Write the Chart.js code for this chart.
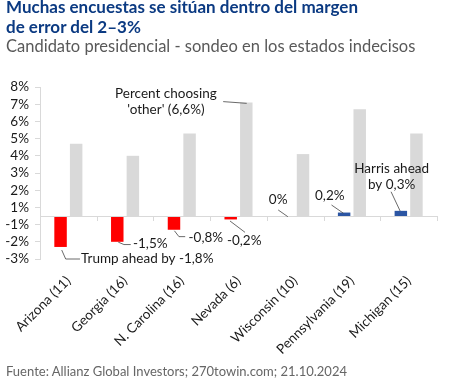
<!DOCTYPE html>
<html>
<head>
<meta charset="utf-8">
<script src="https://cdn.jsdelivr.net/npm/chart.js@4.4.1/dist/chart.umd.min.js"></script>
<style>
  body { margin: 0; background: #fff; font-family: Lato, sans-serif; }
  #box { position: relative; width: 458px; height: 385px; overflow: hidden; }
  #box canvas { position: absolute; left: 0; top: 0; }
  .title { position: absolute; left: 6px; top: -3px; color: #0b3a82; font-weight: bold; font-size: 17px; line-height: 20px; }
  .sub { position: absolute; left: 6px; top: 36px; color: #595959; font-size: 16.5px; }
  .foot { position: absolute; left: 6px; top: 363px; color: #666; font-size: 13px; }
</style>
</head>
<body>
<div id="box">
  <canvas id="chart" width="458" height="385"></canvas>
  <div class="title">Muchas encuestas se sitúan dentro del margen<br>de error del 2–3%</div>
  <div class="sub">Candidato presidencial - sondeo en los estados indecisos</div>
  <div class="foot">Fuente: Allianz Global Investors; 270towin.com; 21.10.2024</div>
</div>
<script>
// data
const states = ["Arizona (11)", "Georgia (16)", "N. Carolina (16)", "Nevada (6)", "Wisconsin (10)", "Pennsylvania (19)", "Michigan (15)"];
const leadValues = [-1.8, -1.5, -0.8, -0.2, 0, 0.2, 0.3];
const otherValues = [4.2, 3.5, 4.8, 6.6, 3.6, 6.2, 4.8];
// the original axis prints its labels half a step off, without a 0%
const yTickLabels = ["-3%", "-2%", "-1%", "1%", "2%", "3%", "4%", "5%", "6%", "7%", "8%"];

// callouts: x as category index, y as value
const notes = [
  { text: ["Trump ahead by -1,8%"], at: [0.223, -2.5], align: "left", path: [[-0.117, -1.98], [-0.047, -2.5], [0.205, -2.5]] },
  { text: ["-1,5%"], at: [1.14, -1.62], align: "left", path: [[0.88, -1.52], [0.98, -1.66], [1.10, -1.66]] },
  { text: ["-0,8%"], at: [2.12, -1.24], align: "left", path: [[1.87, -0.86], [1.95, -1.2], [2.06, -1.2]] },
  { text: ["-0,2%"], at: [3.10, -1.45], align: "center", path: [[2.85, -0.29], [3.115, -0.95]] },
  { text: ["0%"], at: [3.70, 0.93], align: "center", path: [[3.70, 0.35], [3.87, -0.04]] },
  { text: ["0,2%"], at: [4.61, 1.18], align: "center", path: [[4.64, 0.64], [4.85, 0.16]] },
  { text: ["Harris ahead", "by 0,3%"], at: [5.70, 2.77], align: "center", path: [[5.69, 1.41], [5.85, 0.29]] },
  { text: ["Percent choosing", "'other' (6,6%)"], at: [1.72, 7.13], align: "center", path: [[2.73, 6.65], [3.145, 6.55]] }
];

const RED = "#ff0000";
const BLUE = "#2b55a3";
const GREY = "#d9d9d9";

const extras = {
  id: "extras",
  afterDatasetsDraw(chart) {
    const { ctx, scales: { x, y } } = chart;
    const zero = y.getPixelForValue(0);
    ctx.save();
    // zero line and category tick marks
    ctx.strokeStyle = GREY;
    ctx.lineWidth = 1;
    ctx.beginPath();
    ctx.moveTo(x.left, zero + 0.5);
    ctx.lineTo(x.right, zero + 0.5);
    for (let i = 0; i < states.length; i++) {
      const px = Math.round(x.getPixelForValue(i + 0.5)) + 0.5;
      ctx.moveTo(px, zero);
      ctx.lineTo(px, zero + 5);
    }
    ctx.stroke();

    // callouts
    ctx.font = "13.5px Lato";
    ctx.fillStyle = "#1a1a1a";
    ctx.textBaseline = "middle";
    ctx.strokeStyle = "#444";
    ctx.lineWidth = 0.8;
    notes.forEach((n) => {
      ctx.beginPath();
      n.path.forEach((p, k) => {
        const px = x.getPixelForValue(p[0]);
        const py = y.getPixelForValue(p[1]);
        if (k === 0) ctx.moveTo(px, py); else ctx.lineTo(px, py);
      });
      ctx.stroke();
      ctx.textAlign = n.align;
      const tx = x.getPixelForValue(n.at[0]);
      const ty = y.getPixelForValue(n.at[1]);
      n.text.forEach((line, k) => ctx.fillText(line, tx, ty + k * 16));
    });
    ctx.restore();
  }
};

Chart.defaults.font.family = "Lato";
Chart.defaults.color = "#1a1a1a";

new Chart(document.getElementById("chart"), {
  type: "bar",
  data: {
    labels: states,
    datasets: [
      {
        label: "Lead",
        data: leadValues,
        backgroundColor: leadValues.map((v) => (v < 0 ? RED : BLUE)),
        categoryPercentage: 0.55,
        barPercentage: 0.8
      },
      {
        label: "Other",
        data: otherValues,
        backgroundColor: GREY,
        categoryPercentage: 0.55,
        barPercentage: 0.8
      }
    ]
  },
  options: {
    responsive: false,
    animation: false,
    layout: { padding: { top: 87, right: 21, left: 0, bottom: 0 } },
    plugins: {
      legend: { display: false },
      tooltip: { enabled: false }
    },
    scales: {
      x: {
        grid: { display: false, drawTicks: false },
        border: { display: false },
        ticks: { maxRotation: 45, minRotation: 45, padding: 14, font: { size: 13.5 } },
        afterFit: (s) => { s.height = 126; }
      },
      y: {
        min: -2.5,
        max: 7.5,
        ticks: {
          stepSize: 1,
          autoSkip: false,
          padding: 6,
          font: { size: 13.5 },
          callback: (v, i) => yTickLabels[i]
        },
        grid: { drawOnChartArea: false, tickLength: 5, color: GREY },
        border: { color: GREY },
        afterFit: (s) => { s.width = 40; }
      }
    }
  },
  plugins: [extras]
});
</script>
</body>
</html>
